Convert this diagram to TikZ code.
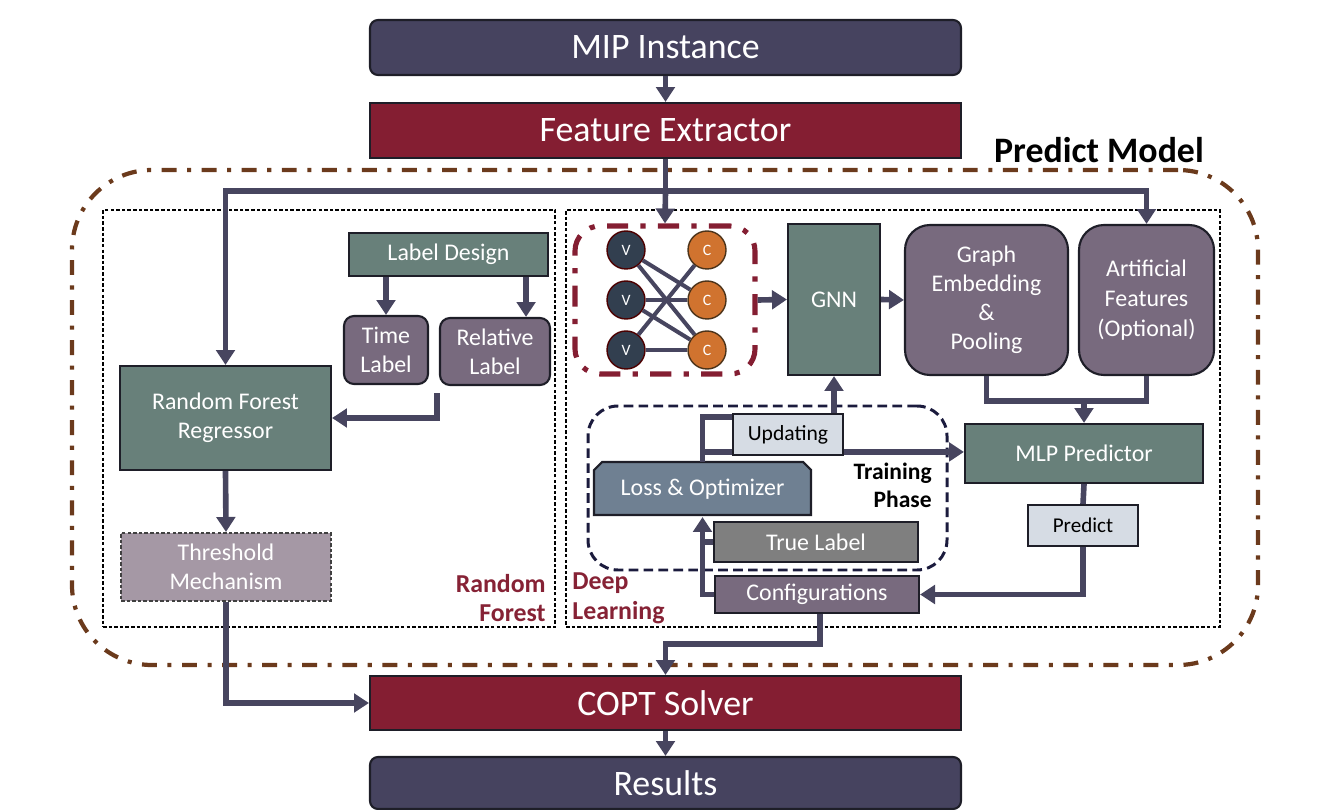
\documentclass[tikz,border=0pt]{standalone}
\usepackage{fontspec}
\setmainfont{Carlito}
\usetikzlibrary{arrows.meta,calc}
\definecolor{navy}{HTML}{46435F}
\definecolor{maroonb}{HTML}{841E32}
\definecolor{sage}{HTML}{68807A}
\definecolor{mauve}{HTML}{786A7E}
\definecolor{thrc}{HTML}{A598A5}
\definecolor{lightc}{HTML}{D6DCE4}
\definecolor{slatec}{HTML}{6F8092}
\definecolor{grayc}{HTML}{7F7F7F}
\definecolor{brownc}{HTML}{6B3A1C}
\definecolor{labm}{HTML}{862235}
\definecolor{vcol}{HTML}{323F4F}
\definecolor{ccol}{HTML}{D0732F}
\definecolor{bord}{HTML}{1E1E28}
\definecolor{arrc}{HTML}{47455F}
\newcommand\fbig{\fontsize{20.4}{24}\selectfont}
\newcommand\fmid{\fontsize{13.6}{16.5}\selectfont}
\tikzset{
  wh/.style 2 args={minimum width=#1*0.02cm, minimum height=#2*0.02cm},
  box/.style={draw=bord, line width=1.2pt, text=white, align=center, inner sep=0pt, font=\fmid},
  bigbox/.style={box, font=\fbig},
  arr/.style={draw=arrc, line width=3.2pt, -{Triangle[width=10.5pt,length=8.5pt]}},
  ln/.style={draw=arrc, line width=3.2pt},
  edge/.style={draw=arrc, line width=2.3pt},
  pmbox/.style={draw=brownc, line width=2.4pt, rounded corners=1.6cm, dash pattern=on 8.5pt off 6pt on 2.3pt off 6pt, inner sep=0pt},
  dotbox/.style={draw=black, line width=0.85pt, dash pattern=on 2pt off 1.2pt, inner sep=0pt},
  tpbox/.style={draw=bord!90!blue, line width=1.7pt, rounded corners=0.6cm, dash pattern=on 5.5pt off 3pt, inner sep=0pt},
  gboxst/.style={draw=maroonb, line width=2.9pt, rounded corners=0.5cm, dash pattern=on 12pt off 7pt on 3pt off 7pt, inner sep=0pt},
  vnode/.style={circle, fill=vcol, draw=black!70!red, line width=0.8pt, minimum size=0.76cm, inner sep=0pt, text=white, font=\fontsize{9}{10}\selectfont},
  cnode/.style={circle, fill=ccol, draw=black!60!brown, line width=0.8pt, minimum size=0.76cm, inner sep=0pt, text=white, font=\fontsize{9}{10}\selectfont},
  labtxt/.style={inner sep=0pt, text=labm, font=\bfseries\fontsize{14.7}{17}\selectfont},
}
\begin{document}
\begin{tikzpicture}[x=0.02cm,y=-0.02cm]
\useasboundingbox (0,0) rectangle (1334,810);
% containers
\node[pmbox, wh={1186}{495}] (pm) at (665,417.5) {};
\node[dotbox, wh={452}{417}] (rfbox) at (329,418.5) {};
\node[dotbox, wh={654}{417}] (dlbox) at (893,418.5) {};
\node[tpbox, wh={359}{164}] (tpbox) at (767.5,488) {};
\node[gboxst, wh={180}{148}] (gbox) at (665,300) {};
% main column
\node[bigbox, fill=navy, rounded corners=0.16cm, wh={591}{55}] (mip) at (665.5,47.5) {MIP Instance};
\node[bigbox, fill=maroonb, wh={591}{55}] (fe) at (665.5,130.5) {Feature Extractor};
\node[bigbox, fill=maroonb, wh={591}{54}] (copt) at (665.5,703) {COPT Solver};
\node[bigbox, fill=navy, rounded corners=0.16cm, wh={591}{52}] (res) at (665.5,783) {Results};
% random forest part
\node[box, fill=sage, wh={199}{43}] (labeldesign) at (448.5,254.5) {Label Design};
\node[box, fill=mauve, rounded corners=0.2cm, wh={84}{68}] (timel) at (386,350) {Time\\Label};
\node[box, fill=mauve, rounded corners=0.2cm, wh={110}{67}] (rell) at (495,351.5) {Relative\\Label};
\node[box, fill=sage, wh={211}{104}] (rfr) at (225.5,418) {Random Forest\\Regressor};
\node[box, fill=thrc, draw=black!75, dash pattern=on 2pt off 1.2pt, wh={210}{68}] (thr) at (226,567) {Threshold\\Mechanism};
% deep learning part
\node[box, fill=sage, wh={92}{151}] (gnn) at (834,299.5) {GNN};
\node[box, fill=mauve, rounded corners=0.5cm, wh={163}{150}] (ge) at (986.5,300) {Graph\\Embedding\\\&\\Pooling};
\node[box, fill=mauve, rounded corners=0.5cm, wh={135}{150}, font=\fontsize{13.6}{17}\selectfont] (af) at (1146.5,300) {Artificial\\Features\\(Optional)};
\node[box, fill=sage, wh={238}{59}] (mlp) at (1084,453.5) {MLP Predictor};
\node[box, fill=lightc, text=black, wh={110}{41}, font=\fontsize{12}{14}\selectfont] (predict) at (1083,525.5) {Predict};
\node[box, fill=mauve, wh={204}{37}] (conf) at (817,594.5) {Configurations};
\node[box, fill=lightc, text=black, wh={110}{41}, font=\fontsize{12.3}{14}\selectfont] (upd) at (788,434.5) {Updating};
\draw[draw=bord, line width=1.2pt, fill=slatec] (594,515) -- (594,470) -- (602,462) -- (803,462) -- (811,470) -- (811,515) -- cycle;
\node[box, draw=none, wh={217}{53}] (loss) at (702.5,489.5) {Loss \& Optimizer};
\node[box, fill=grayc, wh={204}{40}] (truel) at (816,542) {True Label};
% bipartite graph
\node[vnode] (v1) at (626,250) {V};
\node[vnode] (v2) at (626,300) {V};
\node[vnode] (v3) at (626,350) {V};
\node[cnode] (c1) at (707,250) {C};
\node[cnode] (c2) at (707,300) {C};
\node[cnode] (c3) at (707,350) {C};
\draw[edge] (v1) -- (c2);
\draw[edge] (v1) -- (c3);
\draw[edge] (v2) -- (c2);
\draw[edge] (v2) -- (c3);
\draw[edge] (v3) -- (c1);
\draw[edge] (v3) -- (c3);
% labels
\node[inner sep=0pt, font=\bfseries\fbig] (pmlabel) at (1099,150) {Predict Model};
\node[labtxt, anchor=east, align=right] (rflabel) at (546,598) {Random\\Forest};
\node[labtxt, anchor=west, align=left] (dllabel) at (572,598) {Deep\\Learning};
\node[inner sep=0pt, anchor=east, align=right, font=\bfseries\fontsize{13.4}{16}\selectfont] (tplabel) at (932,485) {Training\\Phase};
% connectors
\draw[arr] (mip.south) -- (fe.north);
\coordinate (split) at ($(fe.south)+(0,32)$);
\draw[ln] (fe.south) -- (split);
\draw[arr] (split) -- (gbox.north);
\draw[arr] (split) -| (rfr.north);
\draw[arr] (split) -| (af.north);
\draw[arr] (labeldesign.south -| timel.north) -- (timel.north);
\coordinate (ldr) at ($(labeldesign.south east)+(-23,0)$);
\draw[arr] (ldr) -- (ldr |- rell.north);
\draw[arr] ($(rell.south west)+(-2,7)$) |- (rfr.east);
\draw[arr] (rfr.south) -- (thr.north);
\draw[arr] (thr.south) |- (copt.west);
\draw[arr] (gbox.east) -- (gnn.west);
\draw[arr] (gnn.east) -- (ge.west);
\coordinate (join) at ($(ge.south)+(0,25)$);
\draw[ln] (ge.south) -- (join) -| (af.south);
\draw[arr] (join -| mlp.north) -- (mlp.north);
\draw[ln] (mlp.south) -- (predict.north);
\draw[arr] (predict.south) |- (conf.east);
\coordinate (cb) at ($(conf.south)+(3,0)$);
\draw[arr] (cb) -- ++(0,30) -| (copt.north);
\draw[arr] (upd.north -| gnn.south) -- (gnn.south);
\draw[ln] (loss.north) |- ($(upd.north west)+(0,4)$);
\coordinate (mid) at ($(loss.north)+(0,-10)$);
\draw[ln] (mid) -- (mid -| upd.west);
\draw[arr] (mid -| upd.east) -- (mid -| mlp.west);
\draw[arr] (conf.west) -| (loss.south);
\draw[ln] (truel.west) -- (truel.west -| loss.south);
\draw[arr] (copt.south) -- (res.north);
\end{tikzpicture}
\end{document}
